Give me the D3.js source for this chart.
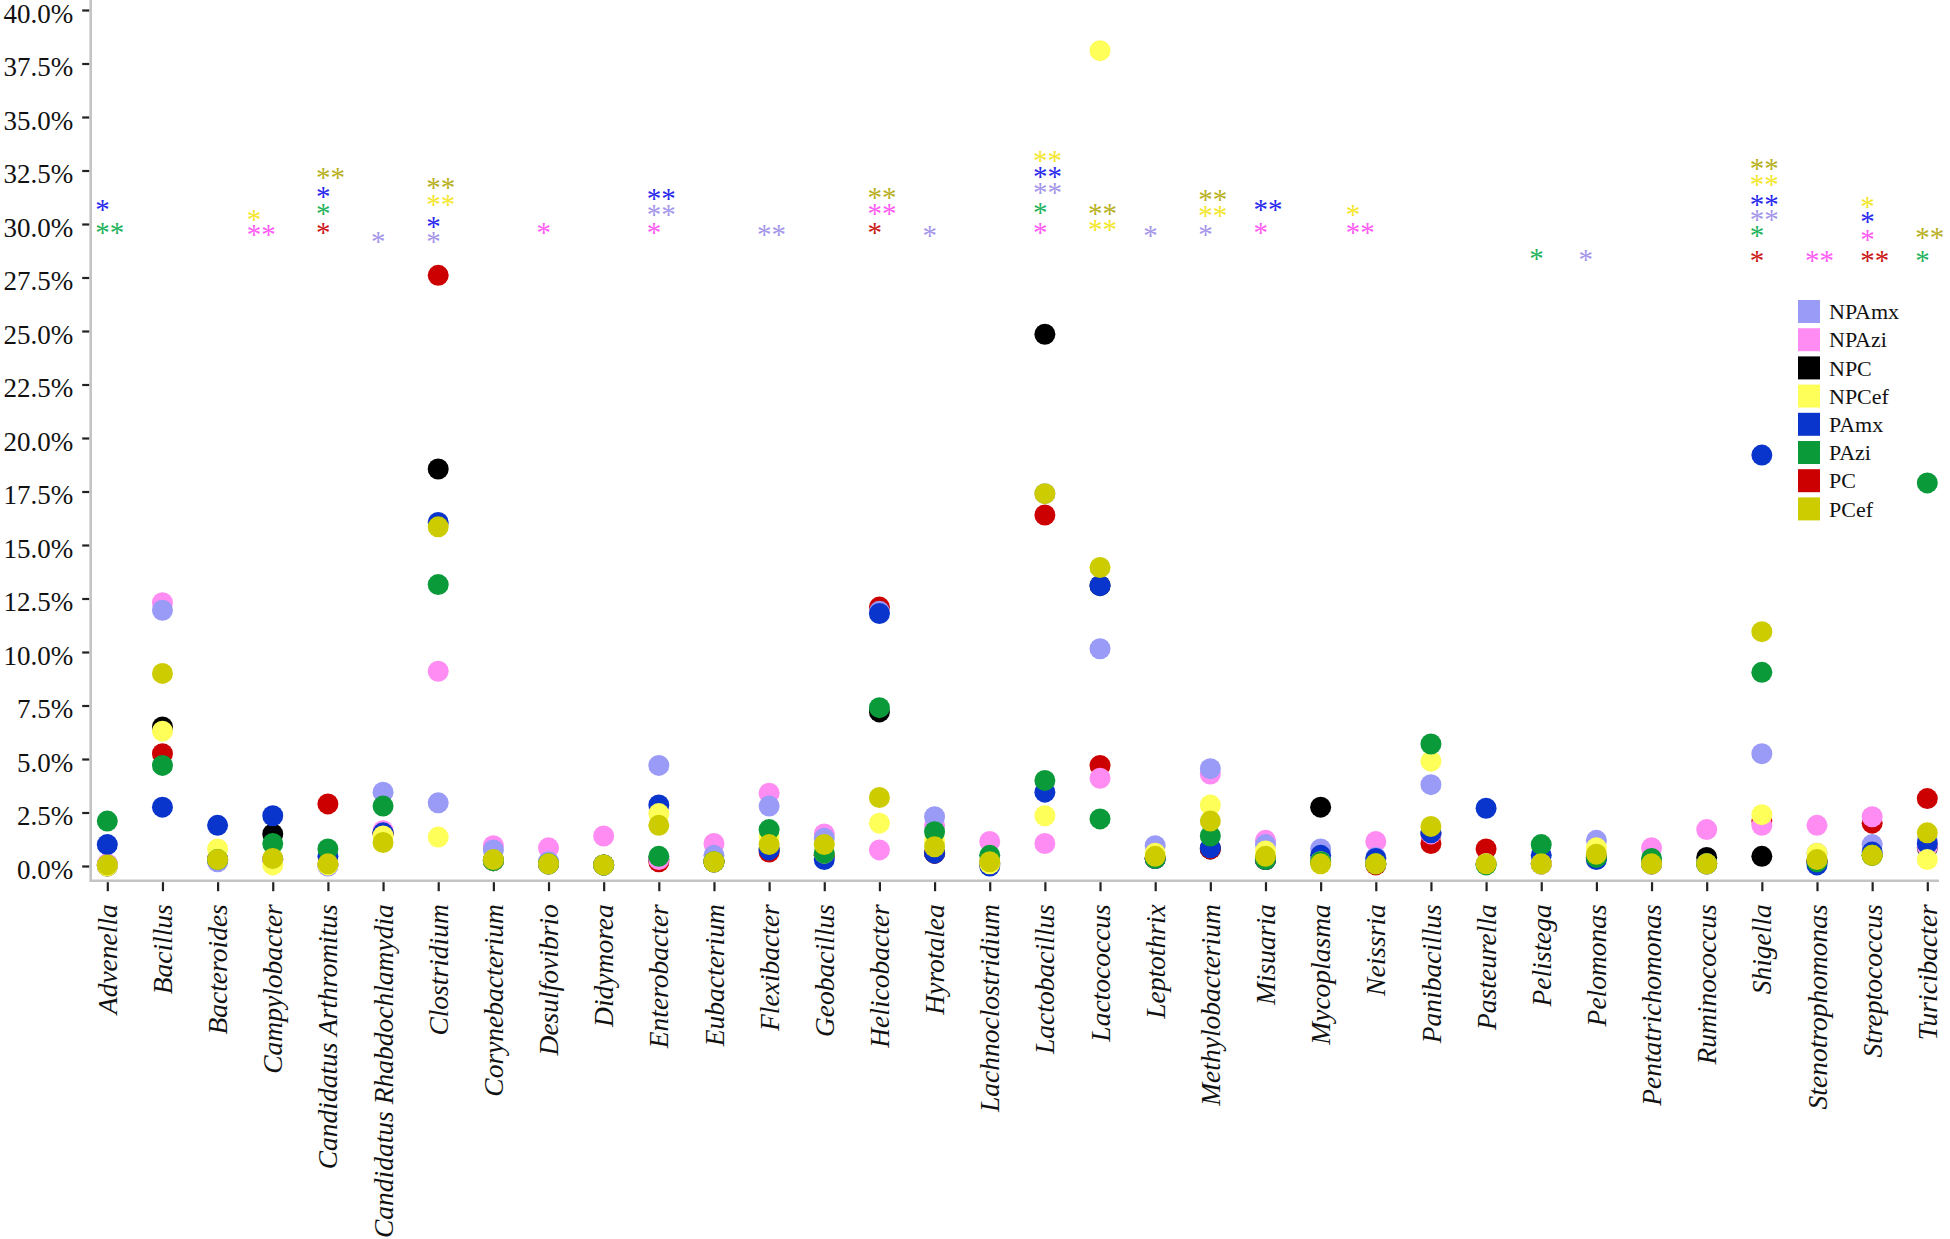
<!DOCTYPE html>
<html>
<head>
<meta charset="utf-8">
<script src="https://cdn.jsdelivr.net/npm/d3@7"></script>
<style>
  html, body { margin: 0; padding: 0; background: #ffffff; }
  svg { display: block; }
</style>
</head>
<body>
<div id="chart"></div>
<script>
// ---------------- DATA ----------------
const categories = [
  "Advenella", "Bacillus", "Bacteroides", "Campylobacter", "Candidatus Arthromitus",
  "Candidatus Rhabdochlamydia", "Clostridium", "Corynebacterium", "Desulfovibrio", "Didymorea",
  "Enterobacter", "Eubacterium", "Flexibacter", "Geobacillus", "Helicobacter",
  "Hyrotalea", "Lachnoclostridium", "Lactobacillus", "Lactococcus", "Leptothrix",
  "Methylobacterium", "Misuaria", "Mycoplasma", "Neissria", "Panibacillus",
  "Pasteurella", "Pelistega", "Pelomonas", "Pentatrichomonas", "Ruminococcus",
  "Shigella", "Stenotrophomonas", "Streptococcus", "Turicibacter"
];

const seriesNames = ["NPAmx", "NPAzi", "NPC", "NPCef", "PAmx", "PAzi", "PC", "PCef"];

// relative abundance (%) per category, one array per series
const NPAmx = [0.05, 11.95, 0.2, 0.3, 0.0, 3.45, 2.95, 0.75, 0.2, 0.05,
  4.7, 0.5, 2.8, 1.3, 11.9, 2.3, 0.15, 17.4, 10.15, 0.95,
  4.55, 1.0, 0.8, 0.4, 3.8, 0.1, 0.1, 1.2, 0.1, 0.1,
  5.25, 0.6, 1.0, 1.2];
const NPAzi = [0.1, 12.3, 0.3, 0.3, 0.05, 1.65, 9.1, 0.95, 0.85, 1.4,
  0.3, 1.05, 3.4, 1.5, 0.75, 1.9, 1.15, 1.05, 4.1, 0.35,
  4.3, 1.2, 0.2, 1.15, 1.5, 0.1, 0.1, 0.5, 0.85, 1.7,
  1.9, 1.9, 2.3, 0.9];
const NPC = [0.0, 6.5, 0.3, 1.5, 0.05, 1.55, 18.55, 0.25, 0.1, 0.05,
  0.3, 0.2, 0.8, 0.5, 7.2, 0.6, 0.1, 24.85, 13.1, 0.35,
  0.8, 0.3, 2.75, 0.1, 1.5, 0.1, 0.1, 0.4, 0.1, 0.4,
  0.45, 0.2, 0.5, 0.85];
const NPCef = [0.0, 6.3, 0.8, 0.05, 0.05, 1.4, 1.35, 0.25, 0.1, 0.05,
  2.45, 0.2, 1.35, 0.6, 2.0, 1.2, 0.1, 2.35, 38.1, 0.6,
  2.85, 0.7, 0.2, 0.1, 4.9, 0.1, 0.1, 0.85, 0.1, 0.1,
  2.4, 0.6, 0.5, 0.3];
const PAmx = [1.0, 2.75, 1.9, 2.35, 0.45, 1.55, 16.05, 0.25, 0.1, 0.05,
  2.85, 0.2, 0.75, 0.3, 11.8, 0.6, 0.0, 3.45, 13.1, 0.35,
  0.85, 0.3, 0.5, 0.35, 1.55, 2.7, 0.5, 0.3, 0.1, 0.1,
  19.2, 0.05, 0.65, 1.05];
const PAzi = [2.1, 4.7, 0.3, 1.05, 0.8, 2.8, 13.15, 0.25, 0.1, 0.05,
  0.45, 0.2, 1.7, 0.6, 7.4, 1.6, 0.5, 4.0, 2.2, 0.35,
  1.4, 0.3, 0.2, 0.1, 5.7, 0.05, 1.0, 0.4, 0.35, 0.1,
  9.05, 0.2, 0.5, 17.9];
const PC = [0.05, 5.25, 0.3, 0.3, 2.9, 1.5, 27.6, 0.25, 0.1, 0.05,
  0.2, 0.2, 0.65, 0.5, 12.1, 0.6, 0.1, 16.4, 4.7, 0.35,
  0.8, 0.3, 0.2, 0.05, 1.05, 0.8, 0.1, 0.4, 0.1, 0.1,
  2.1, 0.2, 2.0, 3.15];
const PCef = [0.05, 9.0, 0.3, 0.35, 0.1, 1.1, 15.85, 0.3, 0.1, 0.05,
  1.9, 0.2, 1.0, 1.0, 3.2, 0.9, 0.2, 17.4, 13.95, 0.45,
  2.1, 0.45, 0.1, 0.1, 1.85, 0.1, 0.1, 0.55, 0.1, 0.1,
  10.95, 0.3, 0.5, 1.55];

const yTickValues = [0, 2.5, 5, 7.5, 10, 12.5, 15, 17.5, 20, 22.5, 25, 27.5, 30, 32.5, 35, 37.5, 40];

// significance marks: category, series, mark, level on the % scale
const sigCategory = [
  "Advenella", "Advenella",
  "Campylobacter", "Campylobacter",
  "Candidatus Arthromitus", "Candidatus Arthromitus", "Candidatus Arthromitus", "Candidatus Arthromitus",
  "Candidatus Rhabdochlamydia",
  "Clostridium", "Clostridium", "Clostridium", "Clostridium",
  "Desulfovibrio",
  "Enterobacter", "Enterobacter", "Enterobacter",
  "Flexibacter",
  "Helicobacter", "Helicobacter", "Helicobacter",
  "Hyrotalea",
  "Lactobacillus", "Lactobacillus", "Lactobacillus", "Lactobacillus", "Lactobacillus",
  "Lactococcus", "Lactococcus",
  "Leptothrix",
  "Methylobacterium", "Methylobacterium", "Methylobacterium",
  "Misuaria", "Misuaria",
  "Neissria", "Neissria",
  "Pelistega",
  "Pelomonas",
  "Shigella", "Shigella", "Shigella", "Shigella", "Shigella", "Shigella",
  "Stenotrophomonas",
  "Streptococcus", "Streptococcus", "Streptococcus", "Streptococcus",
  "Turicibacter", "Turicibacter"
];
const sigSeries = [
  "PAmx", "PAzi",
  "NPCef", "NPAzi",
  "PCef", "PAmx", "PAzi", "PC",
  "NPAmx",
  "PCef", "NPCef", "PAmx", "NPAmx",
  "NPAzi",
  "PAmx", "NPAmx", "NPAzi",
  "NPAmx",
  "PCef", "NPAzi", "PC",
  "NPAmx",
  "NPCef", "PAmx", "NPAmx", "PAzi", "NPAzi",
  "PCef", "NPCef",
  "NPAmx",
  "PCef", "NPCef", "NPAmx",
  "PAmx", "NPAzi",
  "NPCef", "NPAzi",
  "PAzi",
  "NPAmx",
  "PCef", "NPCef", "PAmx", "NPAmx", "PAzi", "PC",
  "NPAzi",
  "NPCef", "PAmx", "NPAzi", "PC",
  "PCef", "PAzi"
];
const sigMark = [
  "*", "**",
  "*", "**",
  "**", "*", "*", "*",
  "*",
  "**", "**", "*", "*",
  "*",
  "**", "**", "*",
  "**",
  "**", "**", "*",
  "*",
  "**", "**", "**", "*", "*",
  "**", "**",
  "*",
  "**", "**", "*",
  "**", "*",
  "*", "**",
  "*",
  "*",
  "**", "**", "**", "**", "*", "*",
  "**",
  "*", "*", "*", "**",
  "**", "*"
];
const sigLevel = [
  30.9, 29.8,
  30.4, 29.7,
  32.4, 31.5, 30.7, 29.8,
  29.4,
  31.9, 31.1, 30.1, 29.4,
  29.8,
  31.4, 30.65, 29.8,
  29.7,
  31.45, 30.7, 29.8,
  29.65,
  33.2, 32.45, 31.7, 30.75, 29.8,
  30.7, 29.95,
  29.65,
  31.35, 30.6, 29.7,
  30.9, 29.8,
  30.65, 29.8,
  28.6,
  28.55,
  32.8, 32.05, 31.1, 30.4, 29.65, 28.5,
  28.5,
  31.05, 30.35, 29.5, 28.5,
  29.6, 28.5
];

// ---------------- STYLE ----------------
const pointColors = {
  NPAmx: "#9a9af7", NPAzi: "#ff8cf2", NPC: "#000000", NPCef: "#ffff5a",
  PAmx: "#0a35cc", PAzi: "#0a9a3a", PC: "#cc0000", PCef: "#cccc00"
};
const markColors = {
  NPAmx: "#a596ea", NPAzi: "#ff5cf5", NPC: "#000000", NPCef: "#f4e62c",
  PAmx: "#2828ee", PAzi: "#1fb35c", PC: "#cc1515", PCef: "#b8b01e"
};
// horizontal nudges (px) of the significance marks for a few genera, as placed in the original
const markNudge = { "Campylobacter": -14, "Neissria": -18, "Pelomonas": -6 };
const drawOrder = ["NPC", "PC", "NPAzi", "NPAmx", "PAmx", "NPCef", "PAzi", "PCef"];
const seriesValues = { NPAmx, NPAzi, NPC, NPCef, PAmx, PAzi, PC, PCef };

const W = 1950, H = 1239;
const axisX = 90.7, axisY = 880.7;

const svg = d3.select("#chart").append("svg")
  .attr("width", W).attr("height", H)
  .style("font-family", "'Liberation Serif', 'Times New Roman', serif");

const x = d3.scalePoint().domain(categories).range([107.3, 1927.3]);
const y = d3.scaleLinear().domain([0, 40]).range([866, 10]);

// ---- axes lines (gray) ----
svg.append("line")
  .attr("x1", axisX).attr("x2", axisX).attr("y1", 0).attr("y2", axisY)
  .attr("stroke", "#c4c4c4").attr("stroke-width", 2.6);
svg.append("line")
  .attr("x1", axisX - 1.3).attr("x2", 1939).attr("y1", axisY).attr("y2", axisY)
  .attr("stroke", "#c4c4c4").attr("stroke-width", 2.6);

// ---- y axis ----
const yAxis = svg.append("g")
  .attr("transform", `translate(${axisX - 1.5},0)`)
  .call(d3.axisLeft(y).tickValues(yTickValues)
    .tickFormat(d => d.toFixed(1) + "%")
    .tickSize(7).tickPadding(9).tickSizeOuter(0));
yAxis.select(".domain").remove();
yAxis.selectAll(".tick line").attr("stroke", "#222").attr("stroke-width", 2.2);
yAxis.selectAll(".tick text")
  .attr("fill", "#111")
  .attr("dy", "0.45em")
  .style("font-size", "27px")
  .style("font-family", "'Liberation Serif', 'Times New Roman', serif");

// ---- x axis ----
const xAxis = svg.append("g")
  .attr("transform", `translate(0,${axisY + 1.5})`)
  .call(d3.axisBottom(x).tickSize(9).tickPadding(0).tickSizeOuter(0));
xAxis.select(".domain").remove();
xAxis.selectAll(".tick line").attr("stroke", "#222").attr("stroke-width", 2.2);
xAxis.selectAll(".tick text")
  .attr("fill", "#111")
  .attr("text-anchor", "end")
  .attr("transform", "translate(0,22) rotate(-90)")
  .attr("x", 0).attr("y", 0).attr("dy", "0.33em")
  .style("font-size", "27.5px")
  .style("font-style", "italic")
  .style("font-family", "'Liberation Serif', 'Times New Roman', serif");

// ---- points ----
const pts = [];
drawOrder.forEach(s => {
  seriesValues[s].forEach((v, i) => pts.push({ s, c: categories[i], v }));
});
svg.append("g").selectAll("circle")
  .data(pts).join("circle")
  .attr("cx", d => x(d.c))
  .attr("cy", d => y(d.v))
  .attr("r", 10.5)
  .attr("fill", d => pointColors[d.s]);

// ---- significance marks ----
const marks = sigCategory.map((c, i) => ({ c, s: sigSeries[i], m: sigMark[i], lv: sigLevel[i] }));
svg.append("g").selectAll("text")
  .data(marks).join("text")
  .attr("x", d => x(d.c) - 12 + (markNudge[d.c] || 0))
  .attr("y", d => y(d.lv))
  .attr("dy", 14)
  .attr("text-anchor", "start")
  .attr("fill", d => markColors[d.s])
  .style("font-size", "29px")
  .style("font-family", "'Liberation Serif', 'Times New Roman', serif")
  .text(d => d.m);

// ---- legend ----
const legend = svg.append("g").attr("transform", "translate(1798,300)");
const li = legend.selectAll("g").data(seriesNames).join("g")
  .attr("transform", (d, i) => `translate(0,${i * 28.2})`);
li.append("rect").attr("width", 22).attr("height", 23)
  .attr("fill", d => pointColors[d]);
li.append("text").attr("x", 31).attr("y", 11.5).attr("dy", "0.35em")
  .attr("fill", "#111")
  .style("font-size", "22px")
  .text(d => d);
</script>
</body>
</html>
